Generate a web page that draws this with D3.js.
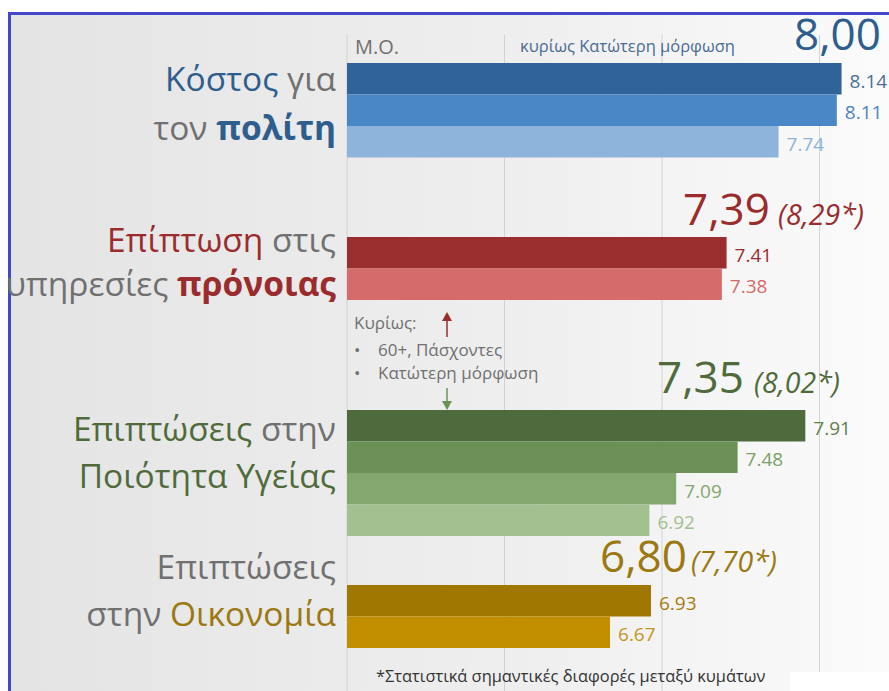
<!DOCTYPE html>
<html>
<head>
<meta charset="utf-8">
<script src="https://cdn.jsdelivr.net/npm/d3@7"></script>
<style>
  body { margin: 0; background: #fff; }
  svg { display: block; font-family: "Open Sans", "Noto Sans", sans-serif; }
</style>
</head>
<body>
<svg id="chart" width="889" height="691"></svg>
<script>
// values per group (bars top to bottom)
var costValues = [8.14, 8.11, 7.74];
var welfareValues = [7.41, 7.38];
var healthValues = [7.91, 7.48, 7.09, 6.92];
var economyValues = [6.93, 6.67];

// overall means and significant-difference values
var meanLabels = ["8,00", "7,39", "7,35", "6,80"];
var sigLabels = ["", "(8,29*)", "(8,02*)", "(7,70*)"];

// category labels, [text, emphasised]
var categoryLines = [
    [[["Κόστος", true], [" για", false]], [["τον ", false], ["πολίτη", true]]],
    [[["Επίπτωση", true], [" στις", false]], [["υπηρεσίες ", false], ["πρόνοιας", true]]],
    [[["Επιπτώσεις", true], [" στην", false]], [["Ποιότητα Υγείας", true]]],
    [[["Επιπτώσεις", false]], [["στην ", false], ["Οικονομία", true]]]
];

var tickValues = [5, 6, 7, 8];
var noteLines = ["60+, Πάσχοντες", "Κατώτερη μόρφωση"];

// colours
var barColors = [
    ["#30639a", "#4a87c6", "#8fb4db"],
    ["#9a2e2f", "#d56b6b"],
    ["#4f6b3d", "#6b9157", "#83a86e", "#a3c190"],
    ["#a07700", "#c18e00"]
];
var valueColors = [
    ["#4d6f96", "#4c84c2", "#8fb3da"],
    ["#9a2e2f", "#d46b6b"],
    ["#5f7f4d", "#7aa266", "#83a86e", "#a3c190"],
    ["#a57b10", "#c4951c"]
];
var mainColors = ["#2e5e8e", "#9a2c2e", "#4f6b3b", "#9b7810"];
var grey = "#707070";

var groups = [costValues, welfareValues, healthValues, economyValues];

// layout
var barTops = [63, 237, 410, 585];
var barH = 31.5;
var labelBase = [[91, 140], [252, 296], [441, 488], [579, 626]];
var meanPos = [[794, 50], [683, 225], [657, 393], [600, 572]];
var sigGap = [0, 8, 10, 4];

var svg = d3.select("#chart");

var defs = svg.append("defs");
var grad = defs.append("linearGradient").attr("id", "bg")
    .attr("x1", "0%").attr("x2", "100%").attr("y1", "0%").attr("y2", "0%");
grad.append("stop").attr("offset", "0%").attr("stop-color", "#e4e4e4");
grad.append("stop").attr("offset", "60%").attr("stop-color", "#efefef");
grad.append("stop").attr("offset", "100%").attr("stop-color", "#fbfbfb");

svg.append("rect").attr("x", 10).attr("y", 14).attr("width", 879).attr("height", 677)
    .attr("fill", "url(#bg)");

var x = d3.scaleLinear().domain([5, 9]).range([347, 977]);

// gridlines
svg.selectAll("line.grid").data(tickValues).enter().append("line")
    .attr("class", "grid")
    .attr("x1", function (d) { return x(d); })
    .attr("x2", function (d) { return x(d); })
    .attr("y1", 35).attr("y2", 691)
    .attr("stroke", "#d2d2d2").attr("stroke-width", 1);

// frame
svg.append("rect").attr("x", 8).attr("y", 12).attr("width", 881).attr("height", 3).attr("fill", "#4347c8");
svg.append("rect").attr("x", 8).attr("y", 12).attr("width", 3).attr("height", 679).attr("fill", "#4347c8");

// header
svg.append("text").attr("x", 355).attr("y", 54).style("font-size", "20px").attr("fill", grey).text("Μ.Ο.");
svg.append("text").attr("x", 520).attr("y", 52).style("font-size", "16.5px").attr("fill", "#4a6b94")
    .text("κυρίως Κατώτερη μόρφωση");

groups.forEach(function (vals, gi) {
    var y = d3.scaleBand().domain(d3.range(vals.length))
        .range([barTops[gi], barTops[gi] + barH * vals.length]).padding(0);
    var g = svg.append("g");

    g.selectAll("rect").data(vals).enter().append("rect")
        .attr("x", x(5))
        .attr("y", function (d, i) { return y(i); })
        .attr("width", function (d) { return x(d) - x(5); })
        .attr("height", y.bandwidth())
        .attr("fill", function (d, i) { return barColors[gi][i]; });

    g.selectAll("text.val").data(vals).enter().append("text")
        .attr("class", "val")
        .attr("x", function (d) { return x(d) + 8; })
        .attr("y", function (d, i) { return y(i) + y.bandwidth() / 2 + 9; })
        .style("font-size", "19px")
        .attr("fill", function (d, i) { return valueColors[gi][i]; })
        .text(function (d) { return d.toFixed(2); });

    // left category label
    categoryLines[gi].forEach(function (line, li) {
        var t = svg.append("text")
            .attr("x", 336).attr("y", labelBase[gi][li])
            .attr("text-anchor", "end")
            .style("font-size", "33.5px");
        line.forEach(function (part) {
            t.append("tspan").text(part[0])
                .attr("fill", part[1] ? mainColors[gi] : grey)
                .style("font-weight", part[1] && (gi < 2 && li == 1) ? "bold" : "normal");
        });
    });

    // mean
    var m = svg.append("text").attr("x", meanPos[gi][0]).attr("y", meanPos[gi][1])
        .style("font-size", "44px").attr("fill", mainColors[gi]);
    m.append("tspan").text(meanLabels[gi]);
    if (sigLabels[gi]) {
        m.append("tspan").attr("dx", sigGap[gi]).style("font-size", "28.5px").style("font-style", "italic")
            .text(sigLabels[gi]);
    }
});

// note between groups
svg.append("text").attr("x", 354).attr("y", 329).style("font-size", "17px").attr("fill", grey).text("Κυρίως:");
noteLines.forEach(function (s, i) {
    svg.append("text").attr("x", 354).attr("y", 356 + i * 23).style("font-size", "17px").attr("fill", grey).text("•");
    svg.append("text").attr("x", 378).attr("y", 356 + i * 23).style("font-size", "17px").attr("fill", grey).text(s);
});

function arrow(x0, y0, y1, col) {
    var dir = y1 < y0 ? -1 : 1;
    svg.append("line").attr("x1", x0).attr("x2", x0).attr("y1", y0).attr("y2", y1 - dir * 8)
        .attr("stroke", col).attr("stroke-width", 1.5);
    svg.append("path")
        .attr("d", "M" + (x0 - 5) + "," + (y1 - dir * 9) + "L" + x0 + "," + y1 + "L" + (x0 + 5) + "," + (y1 - dir * 9) + "Z")
        .attr("fill", col);
}
arrow(447, 337, 312, "#9a2e2f");
arrow(447, 388, 410, "#6b9157");

// footnote
svg.append("rect").attr("x", 790).attr("y", 672).attr("width", 99).attr("height", 19).attr("fill", "#fff");
svg.append("text").attr("x", 376).attr("y", 682).style("font-size", "16.4px").attr("fill", "#333")
    .text("*Στατιστικά σημαντικές διαφορές μεταξύ κυμάτων");
</script>
</body>
</html>
